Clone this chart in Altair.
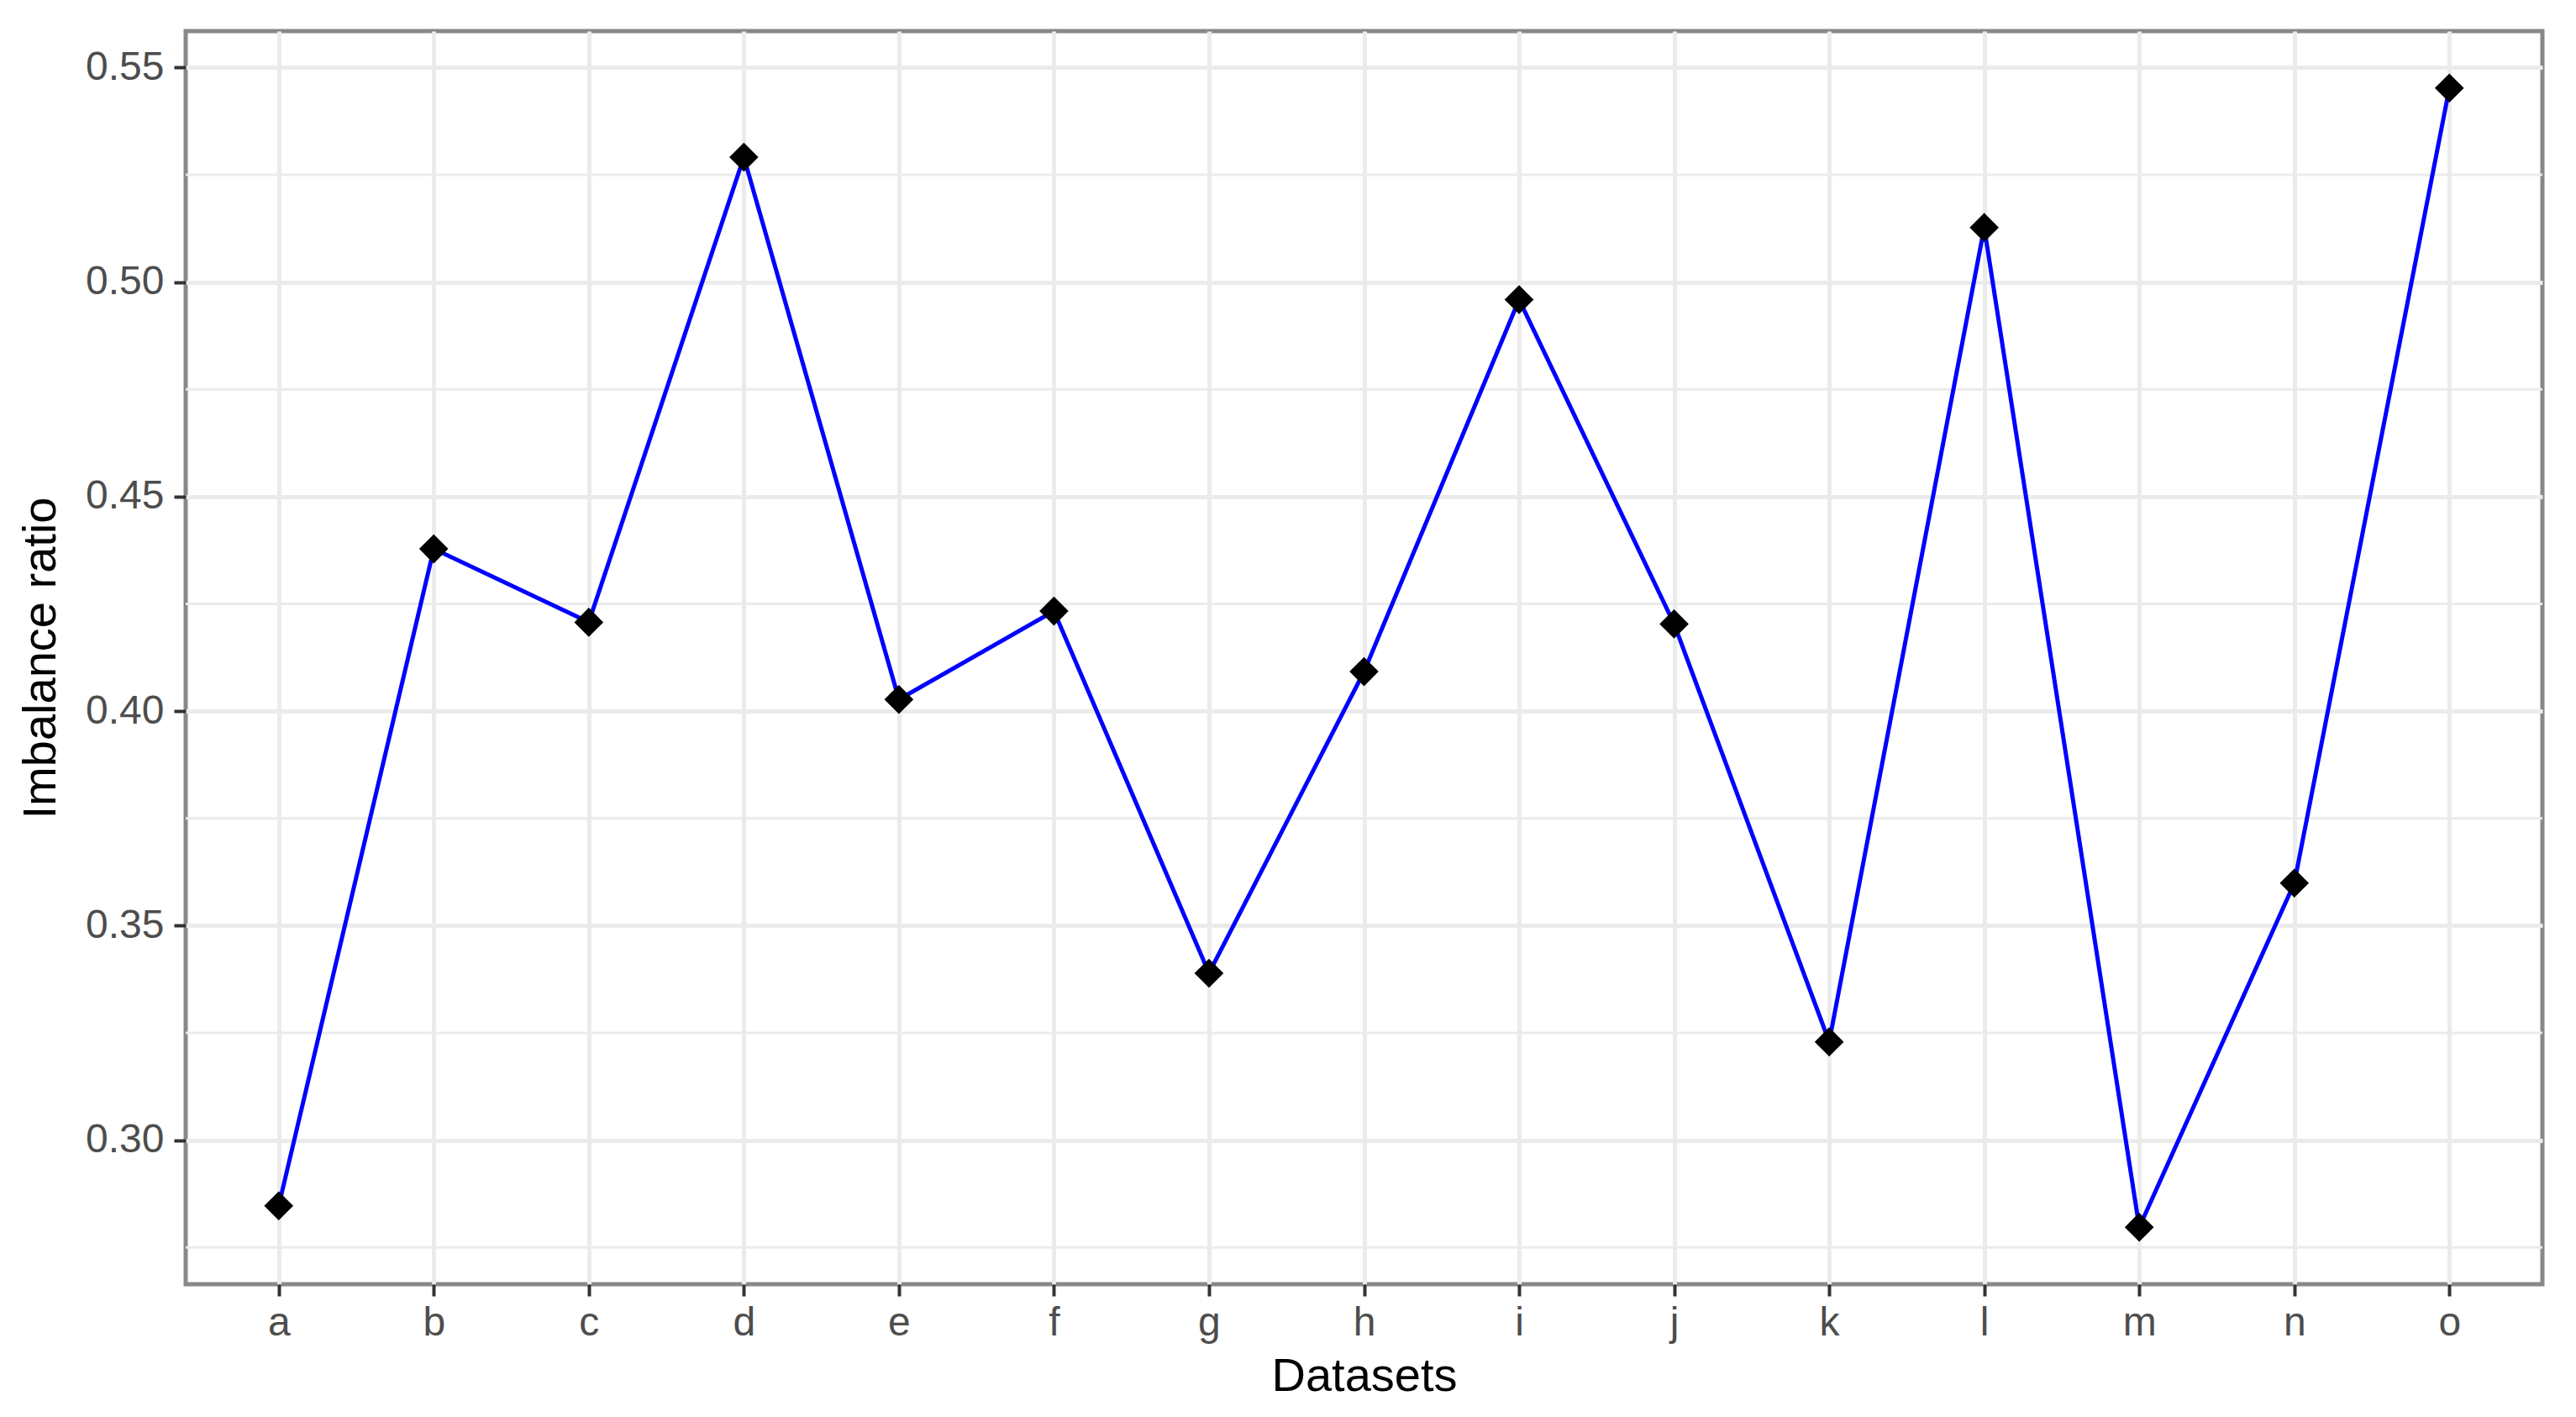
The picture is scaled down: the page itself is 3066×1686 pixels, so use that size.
import altair as alt
import pandas as pd

datasets = ["a", "b", "c", "d", "e", "f", "g", "h", "i", "j", "k", "l", "m", "n", "o"]
imbalance = [0.2847, 0.4378, 0.4207, 0.5291, 0.4027, 0.4233, 0.3389, 0.4092,
             0.4959, 0.4203, 0.3229, 0.5127, 0.2797, 0.3599, 0.5452]
major_ticks = [0.30, 0.35, 0.40, 0.45, 0.50, 0.55]
minor_ticks = [0.275, 0.325, 0.375, 0.425, 0.475, 0.525]

df = pd.DataFrame({"Datasets": datasets, "ratio": imbalance})
minor_df = pd.DataFrame({"ratio": minor_ticks})

lo, hi = min(imbalance), max(imbalance)
pad = (hi - lo) * 0.05
yscale = alt.Scale(domain=[lo - pad, hi + pad], nice=False, zero=False)
xscale = alt.Scale(type="point", padding=0.6)

FONT = "Liberation Sans"

yaxis = alt.Axis(
    values=major_ticks, format=".2f", title="Imbalance ratio",
    labelFont=FONT, labelFontSize=48, labelColor="#4D4D4D", labelPadding=12,
    tickColor="#333333", tickSize=14, tickWidth=4,
    gridColor="#EBEBEB", gridWidth=5, domain=False,
    titleFont=FONT, titleFontSize=56, titleFontWeight="normal", titleColor="#000000",
    titlePadding=24,
)
xaxis = alt.Axis(
    title="Datasets", labelAngle=0,
    labelFont=FONT, labelFontSize=48, labelColor="#4D4D4D", labelPadding=8,
    tickColor="#333333", tickSize=14, tickWidth=4,
    gridColor="#EBEBEB", gridWidth=5, grid=True, domain=False,
    titleFont=FONT, titleFontSize=56, titleFontWeight="normal", titleColor="#000000",
    titlePadding=12,
)

minor = alt.Chart(minor_df).mark_rule(color="#EBEBEB", strokeWidth=3).encode(
    y=alt.Y("ratio:Q", scale=yscale, axis=yaxis)
)

base = alt.Chart(df).encode(
    x=alt.X("Datasets:N", scale=xscale, axis=xaxis, sort=datasets),
    y=alt.Y("ratio:Q", scale=yscale, axis=yaxis),
)
line = base.mark_line(color="#0000FF", strokeWidth=5)
points = base.mark_point(shape="diamond", filled=True, color="#000000", size=1200, opacity=1)

chart = alt.layer(minor, line, points).properties(
    width=2805, height=1491,
    autosize=alt.AutoSizeParams(type="none"),
    padding={"left": 213, "top": 29, "right": 30, "bottom": 150},
).configure_view(stroke="#888888", strokeWidth=5)

chart.save("out.html", embed_options={"renderer": "svg", "actions": False})
